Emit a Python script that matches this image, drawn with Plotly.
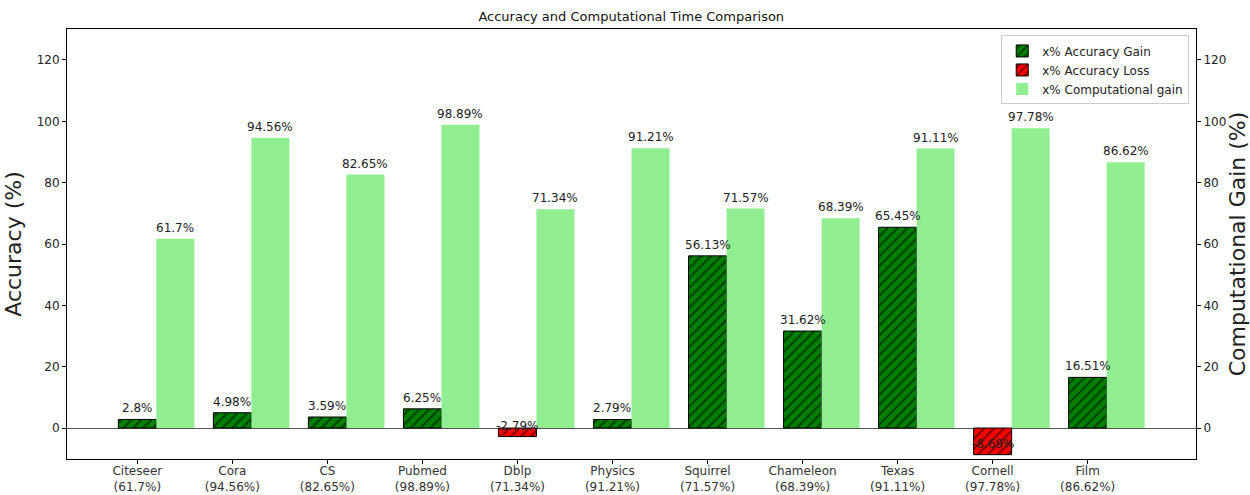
import plotly.graph_objects as go

datasets = ["Citeseer", "Cora", "CS", "Pubmed", "Dblp", "Physics",
            "Squirrel", "Chameleon", "Texas", "Cornell", "Film"]
accuracy_change = [2.8, 4.98, 3.59, 6.25, -2.79, 2.79, 56.13, 31.62, 65.45, -8.69, 16.51]
comp_gain = [61.7, 94.56, 82.65, 98.89, 71.34, 91.21, 71.57, 68.39, 91.11, 97.78, 86.62]

x = list(range(len(datasets)))
w = 0.4
x_comp = [i + w for i in x]
tick_text = [f"{d}<br>({g}%)" for d, g in zip(datasets, comp_gain)]

gain_vals = [v if v >= 0 else None for v in accuracy_change]
loss_vals = [v if v < 0 else None for v in accuracy_change]

FONT = "DejaVu Sans, Verdana, sans-serif"
hatch = dict(shape="/", fgcolor="black", fillmode="overlay", size=7, solidity=0.3)

fig = go.Figure()

# accuracy gain / loss, hatched
fig.add_trace(go.Bar(
    x=x, y=gain_vals, width=w, name="x% Accuracy Gain",
    marker=dict(color="green", line=dict(color="black", width=1), pattern=hatch),
))
fig.add_trace(go.Bar(
    x=x, y=loss_vals, width=w, name="x% Accuracy Loss",
    marker=dict(color="red", line=dict(color="black", width=1), pattern=hatch),
))
# computational gain on twin axis
fig.add_trace(go.Bar(
    x=x_comp, y=comp_gain, width=w, name="x% Computational gain",
    marker=dict(color="#90EE90", line=dict(width=0)), yaxis="y2",
))

# value labels, a few px above each bar's value
for xi, v in zip(x, accuracy_change):
    fig.add_annotation(x=xi, y=v, text=f"{v}%", showarrow=False, yanchor="bottom",
                       yshift=2, font=dict(size=12, color="#222"))
for xi, v in zip(x_comp, comp_gain):
    fig.add_annotation(x=xi, y=v, yref="y2", text=f"{v}%", showarrow=False, yanchor="bottom",
                       yshift=2, font=dict(size=12, color="#222"))

yrange = [-10.1, 130.1]
fig.update_layout(
    width=1250, height=495,
    barmode="overlay",
    paper_bgcolor="white", plot_bgcolor="white",
    font=dict(family=FONT, size=12, color="#222"),
    margin=dict(l=67, r=54, t=29, b=36),
    title=dict(text="Accuracy and Computational Time Comparison", x=0.505, xanchor="center",
               y=0.967, yanchor="middle", font=dict(size=13, color="#111")),
    xaxis=dict(range=[-0.74, 11.14], tickvals=x, ticktext=tick_text, ticks="outside",
               ticklen=4, tickcolor="black", showgrid=False, zeroline=False,
               showline=True, linecolor="black", linewidth=1, mirror=True,
               ticklabelstandoff=-3,
               automargin=False, tickfont=dict(size=12, color="#333")),
    yaxis=dict(range=yrange, tickvals=[0, 20, 40, 60, 80, 100, 120], ticks="outside",
               ticklen=4, tickcolor="black", showgrid=False,
               zeroline=True, zerolinecolor="#555", zerolinewidth=1,
               showline=True, linecolor="black", linewidth=1, mirror=True,
               title=dict(text="Accuracy (%)", font=dict(size=22), standoff=8),
               automargin=False),
    yaxis2=dict(range=yrange, tickvals=[0, 20, 40, 60, 80, 100, 120], ticks="outside",
                ticklen=4, tickcolor="black", showgrid=False, zeroline=False,
                overlaying="y", side="right", showline=False,
                title=dict(text="Computational Gain (%)", font=dict(size=22), standoff=4),
                automargin=False),
    legend=dict(x=0.994, y=0.985, xanchor="right", yanchor="top",
                bgcolor="rgba(255,255,255,0.9)", bordercolor="#ccc", borderwidth=1,
                font=dict(size=12), tracegroupgap=0),
    showlegend=True,
)

fig.write_html("out.html", config={"displayModeBar": False},
               post_script="document.body.style.margin='0';")
